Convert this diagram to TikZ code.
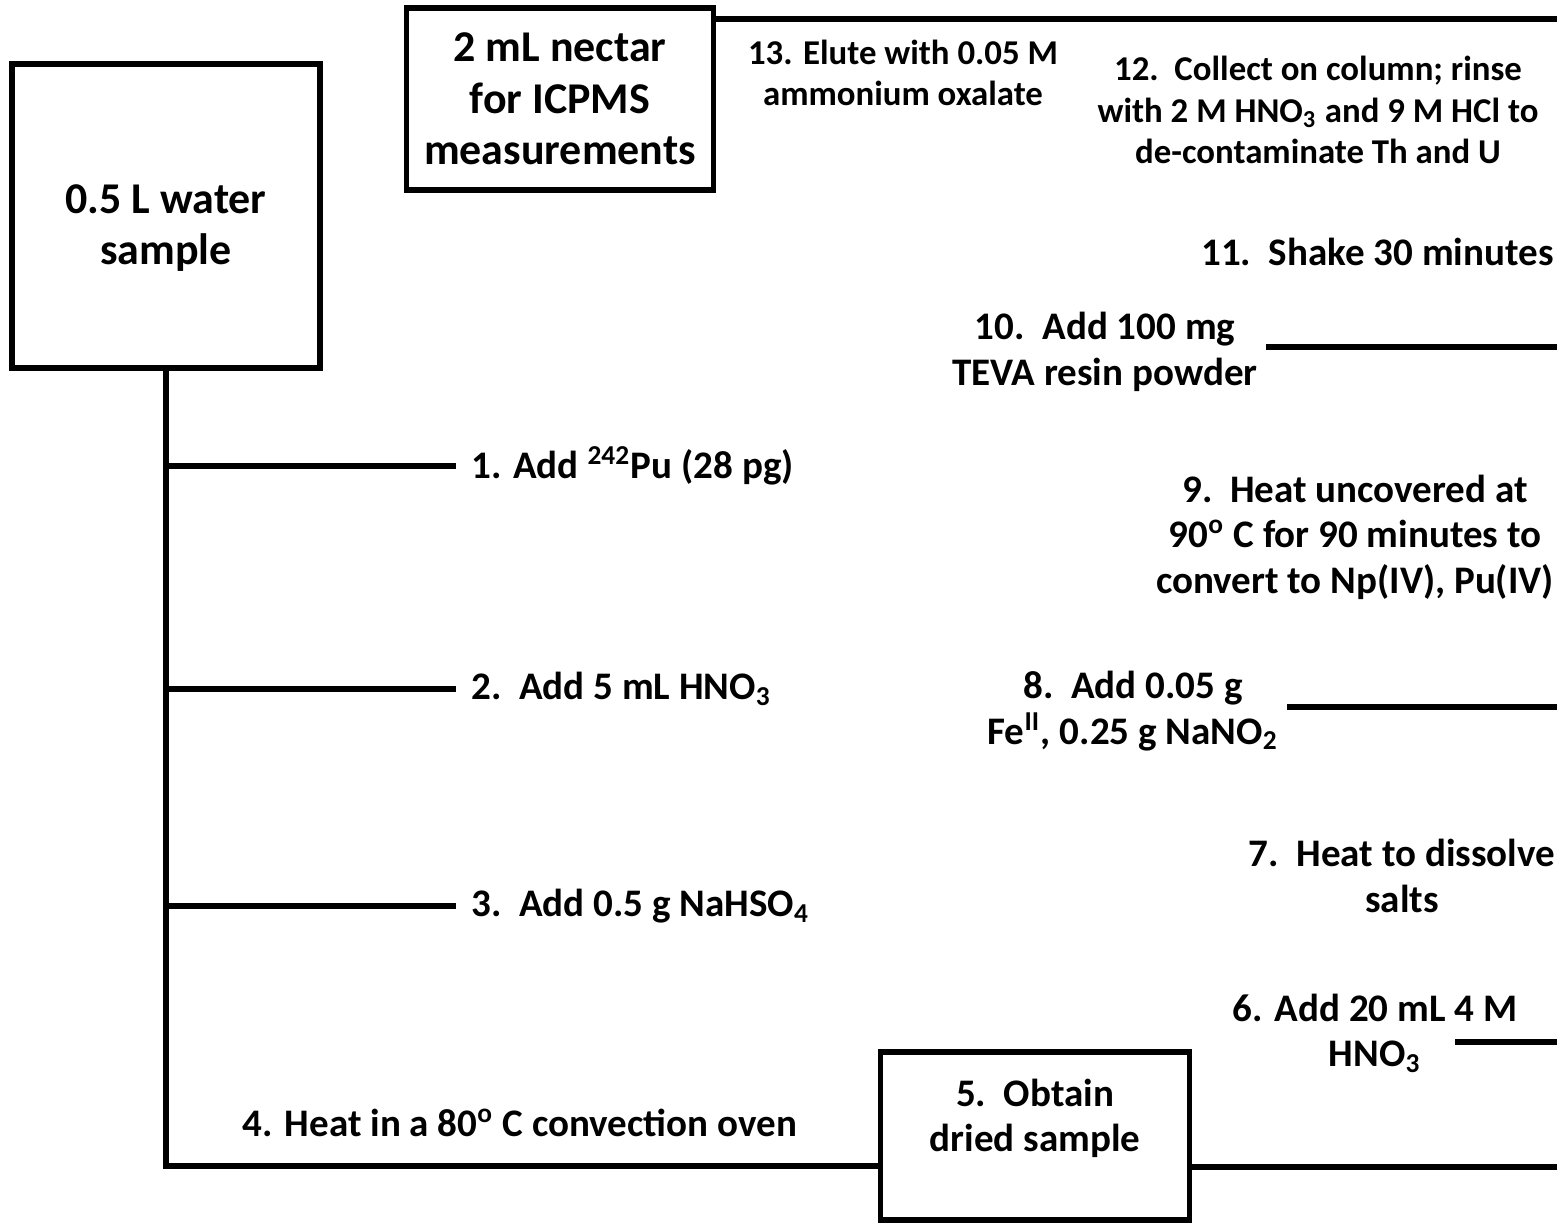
\documentclass[tikz,border=0pt]{standalone}
\usepackage{fontspec}
\setmainfont{Carlito}
\usetikzlibrary{positioning, calc}
\newcommand{\shiftlines}[2]{\raisebox{#1}[\height][\depth]{\begin{tabular}{@{}c@{}}#2\end{tabular}}}

\begin{document}
\begin{tikzpicture}[
    x=0.01cm, y=-0.01cm,
    line cap=rect, line join=miter,
    stepbox/.style={draw=black, line width=1.5pt, align=center, inner sep=4pt,
      font=\fontsize{12.5}{14.6}\selectfont\bfseries},
    steptext/.style={align=center, inner sep=3pt, font=\fontsize{11.1}{12.9}\selectfont\bfseries},
    smalltext/.style={align=center, inner sep=3pt, font=\fontsize{9.9}{11.8}\selectfont\bfseries},
    flow/.style={line width=1.5pt, black}
  ]
    \useasboundingbox (0,0) rectangle (1557,1223);

    % Boxes
    \node[stepbox, minimum width=3.08cm, minimum height=3.04cm] (water) at (166,216) {\shiftlines{-0.13cm}{0.5 L water\\sample}};
    \node[stepbox, minimum width=3.07cm, minimum height=1.82cm] (nectar) at (560,99) {2 mL nectar\\for ICPMS\\measurements};
    \node[stepbox, minimum width=3.09cm, minimum height=1.68cm, font=\fontsize{11.1}{12.9}\selectfont\bfseries] (dried) at (1035,1136) {\shiftlines{0.16cm}{5.\ \ Obtain\\dried sample}};

    % Steps along the left spine
    \node[steptext, anchor=west] (st1) at (460,466) {1. Add \textsuperscript{242}Pu (28 pg)};
    \node[steptext, anchor=west] (st2) at (460,689) {2.\ \ Add 5 mL HNO\textsubscript{3}};
    \node[steptext, anchor=west] (st3) at (460,906) {3.\ \ Add 0.5 g NaHSO\textsubscript{4}};
    \node[steptext] (st4) at (520,1123) {4. Heat in a 80\textsuperscript{o} C convection oven};

    % Steps on the right
    \node[steptext] (st6) at (1375,1033) {6. Add 20 mL 4 M\\HNO\textsubscript{3}};
    \node[steptext] (st7) at (1402,876) {7.\ \ Heat to dissolve\\salts};
    \node[steptext] (st8) at (1133,711) {8.\ \ Add 0.05 g\\Fe\textsuperscript{II}, 0.25 g NaNO\textsubscript{2}};
    \node[steptext] (st9) at (1355,537) {9.\ \ Heat uncovered at\\90\textsuperscript{o} C for 90 minutes to\\convert to Np(IV), Pu(IV)};
    \node[steptext] (st10) at (1105,352) {10.\ \ Add 100 mg\\TEVA resin powder};
    \node[steptext, anchor=west] (st11) at (1190,252) {11.\ \ Shake 30 minutes};
    \node[smalltext] (st12) at (1318,110) {12.\ \ Collect on column; rinse\\with 2 M HNO\textsubscript{3} and 9 M HCl to\\de-contaminate Th and U};
    \node[smalltext] (st13) at (903,73) {13. Elute with 0.05 M\\ammonium oxalate};

    % Spine and branches
    \coordinate (c1) at (166,466);
    \coordinate (c2) at (166,689);
    \coordinate (c3) at (166,906);
    \coordinate (c4) at (166,1166);
    \draw[flow] (water.south) -- (c4) -- (c4 -| dried.west);
    \draw[flow] (c1) -- ($(st1.west)+(-7,0)$);
    \draw[flow] (c2) -- ($(st2.west)+(-7,0)$);
    \draw[flow] (c3) -- ($(st3.west)+(-7,0)$);

    % Lines running off the right edge
    \coordinate (e5) at (1557,1167);
    \coordinate (e6) at (1557,1042);
    \coordinate (e8) at (1557,707);
    \coordinate (e10) at (1557,347);
    \coordinate (e13) at (1557,19);
    \draw[flow] (e5 -| dried.east) -- (e5);
    \draw[flow] (1458,1042) -- (e6);
    \draw[flow] (e8 -| st8.east) -- (e8);
    \draw[flow] (e10 -| st10.east) -- (e10);
    \draw[flow] (e13 -| nectar.east) -- (e13);
\end{tikzpicture}
\end{document}
